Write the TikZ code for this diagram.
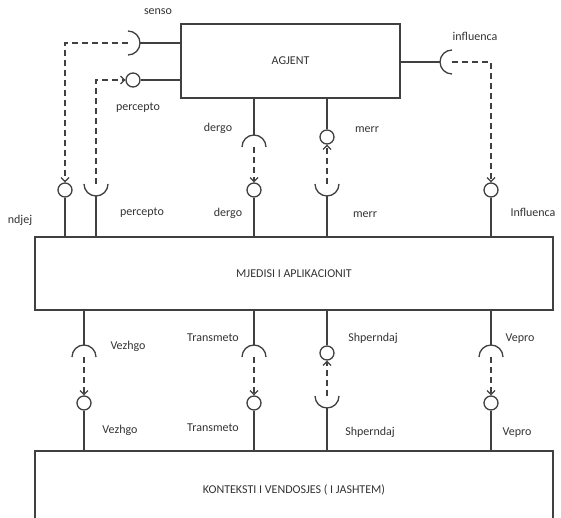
\documentclass[tikz,border=0pt]{standalone}
\usepackage{fontspec}
\setmainfont{Carlito}
\usetikzlibrary{positioning,arrows.meta}

\begin{document}
\begin{tikzpicture}
[x=1pt,y=1pt,
every node/.style={font=\fontsize{12}{14}\selectfont, text=black!80},
box/.style={draw=black!75, line width=1.3pt, rectangle, inner sep=0pt},
ball/.style={draw=black!75, line width=1.3pt, circle, minimum size=14pt, inner sep=0pt},
wire/.style={draw=black!75, line width=1.3pt},
flow/.style={draw=black!75, line width=1.2pt, dash pattern=on 6pt off 4pt, -{Straight Barb[length=4pt,width=8pt]}}]

\useasboundingbox (0,0) rectangle (561,517);

% the three blocks
\node[box, minimum width=219pt, minimum height=74pt] (agent) at (290.5,456) {AGJENT};
\node[box, minimum width=518pt, minimum height=73pt] (env) at (294,243.5) {MJEDISI I APLIKACIONIT};
\node[box, minimum width=518pt, minimum height=78pt] (ctx) at (294,27) {KONTEKSTI I VENDOSJES ( I JASHTEM)};

% agent <-> environment
\coordinate (senso) at (128,474);
\coordinate (perc) at (96,333);
\coordinate (dergo) at (254,370);
\coordinate (merr) at (327,333);
\coordinate (infl) at (452,455);
\node[ball] (ndjej b) at (65,327) {};
\node[ball] (perc b) at (133,437) {};
\node[ball] (dergo b) at (254,327) {};
\node[ball] (merr b) at (327,380) {};
\node[ball] (infl b) at (491,327) {};

\draw[wire] (senso) ++(0,12) arc[start angle=90, end angle=-90, radius=12];
\draw[wire] (senso) ++(12,0) -- (agent.west |- senso);
\draw[flow] (senso) -| (ndjej b.north);
\draw[wire] (ndjej b.south) -- (env.north -| ndjej b);

\draw[wire] (perc b.east) -- (agent.west |- perc b);
\draw[wire] (perc) ++(-12,0) arc[start angle=180, end angle=360, radius=12];
\draw[flow] (perc) |- (perc b.west);
\draw[wire] (perc) ++(0,-12) -- (env.north -| perc);

\draw[wire] (dergo) ++(-12,0) arc[start angle=180, end angle=0, radius=12];
\draw[wire] (dergo) ++(0,12) -- (agent.south -| dergo);
\draw[flow] (dergo) -- (dergo b.north);
\draw[wire] (dergo b.south) -- (env.north -| dergo b);

\draw[wire] (merr b.north) -- (agent.south -| merr b);
\draw[wire] (merr) ++(-12,0) arc[start angle=180, end angle=360, radius=12];
\draw[flow] (merr) -- (merr b.south);
\draw[wire] (merr) ++(0,-12) -- (env.north -| merr);

\draw[wire] (infl) ++(0,12) arc[start angle=90, end angle=270, radius=12];
\draw[wire] (infl) ++(-12,0) -- (agent.east |- infl);
\draw[flow] (infl) -| (infl b.north);
\draw[wire] (infl b.south) -- (env.north -| infl b);

% environment <-> context
\foreach \x/\n in {84/vezhgo, 254/trans, 491/vepro}{
  \coordinate (\n) at (\x,160);
  \node[ball] (\n b) at (\x,114) {};
  \draw[wire] (\n) ++(-12,0) arc[start angle=180, end angle=0, radius=12];
  \draw[wire] (\n) ++(0,12) -- (env.south -| \n);
  \draw[flow] (\n) -- (\n b.north);
  \draw[wire] (\n b.south) -- (ctx.north -| \n b);
}
\coordinate (shp) at (327,121);
\node[ball] (shp b) at (327,164) {};
\draw[wire] (shp b.north) -- (env.south -| shp b);
\draw[wire] (shp) ++(-12,0) arc[start angle=180, end angle=360, radius=12];
\draw[flow] (shp) -- (shp b.south);
\draw[wire] (shp) ++(0,-12) -- (ctx.north -| shp);

% labels
\node (l senso) at (158,505) {senso};
\node (l perc1) at (138,409) {percepto};
\node (l ndjej) at (20,297) {ndjej};
\node (l perc2) at (142,304) {percepto};
\node (l dergo1) at (218,389) {dergo};
\node (l dergo2) at (228,304) {dergo};
\node (l merr1) at (367,387) {merr};
\node (l merr2) at (365,302) {merr};
\node (l infl1) at (475,481) {influenca};
\node (l infl2) at (533,305) {Influenca};
\node (l vezhgo1) at (128,171) {Vezhgo};
\node (l vezhgo2) at (120,87) {Vezhgo};
\node (l trans1) at (213,179) {Transmeto};
\node (l trans2) at (213,89) {Transmeto};
\node (l shp1) at (373,179) {Shperndaj};
\node (l shp2) at (370,85) {Shperndaj};
\node (l vepro1) at (520,178) {Vepro};
\node (l vepro2) at (517,84) {Vepro};

\end{tikzpicture}
\end{document}
